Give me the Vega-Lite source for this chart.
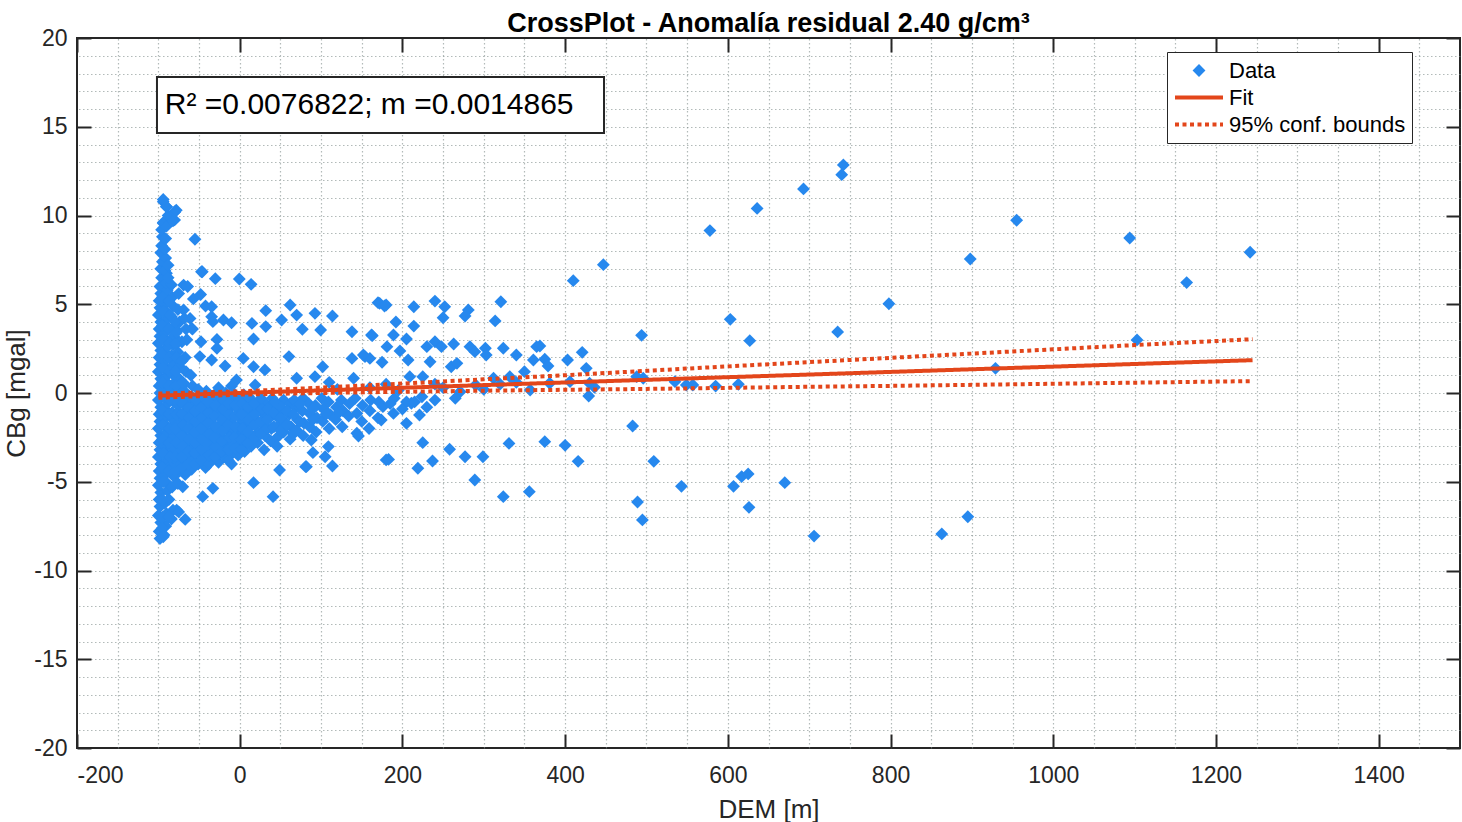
{
  "$schema": "https://vega.github.io/schema/vega-lite/v6.json",
  "width": 1383,
  "height": 710,
  "autosize": {"type": "none"},
  "padding": {"left": 77, "top": 38, "right": 2, "bottom": 74},
  "background": "white",
  "title": {"text": "CrossPlot - Anomalía residual 2.40 g/cm³", "fontSize": 27, "fontWeight": "bold", "font": "Liberation Sans", "color": "#000000", "offset": -11},
  "datasets": {
    "pts": [
      {"x":742,"y":12.85},{"x":740,"y":12.3},{"x":693,"y":11.5},{"x":636,"y":10.4},{"x":578,"y":9.15},{"x":447,"y":7.23},{"x":410,"y":6.33},{"x":898,"y":7.55},{"x":798,"y":5.03},{"x":603,"y":4.15},{"x":735,"y":3.44},{"x":494,"y":3.25},{"x":627,"y":2.95},{"x":369,"y":2.65},{"x":375,"y":1.9},{"x":379,"y":1.52},{"x":403,"y":1.86},{"x":421,"y":2.29},{"x":426,"y":1.39},{"x":381,"y":0.55},{"x":406,"y":0.64},{"x":430,"y":0.55},{"x":436,"y":0.32},{"x":429,"y":-0.17},{"x":488,"y":0.92},{"x":496,"y":0.83},{"x":535,"y":0.64},{"x":549,"y":0.45},{"x":557,"y":0.45},{"x":585,"y":0.39},{"x":613,"y":0.49},{"x":929,"y":1.39},{"x":483,"y":-1.86},{"x":375,"y":-2.74},{"x":400,"y":-2.95},{"x":416,"y":-3.85},{"x":509,"y":-3.85},{"x":543,"y":-5.26},{"x":607,"y":-5.26},{"x":617,"y":-4.71},{"x":625,"y":-4.56},{"x":670,"y":-5.05},{"x":489,"y":-6.14},{"x":495,"y":-7.15},{"x":626,"y":-6.44},{"x":706,"y":-8.06},{"x":863,"y":-7.94},{"x":895,"y":-6.97},{"x":955,"y":9.73},{"x":1094,"y":8.73},{"x":1242,"y":7.93},{"x":1164,"y":6.22},{"x":1103,"y":2.99},
      {"x":170,"y":5.09},{"x":178,"y":4.9},{"x":214,"y":4.86},{"x":240,"y":5.18},{"x":252,"y":4.86},{"x":281,"y":4.68},{"x":277,"y":4.34},{"x":321,"y":5.14},{"x":314,"y":4.06},{"x":250,"y":4.24},{"x":192,"y":4.0},{"x":214,"y":3.77},{"x":138,"y":3.45},{"x":163,"y":3.23},{"x":189,"y":3.27},{"x":205,"y":3.04},{"x":181,"y":2.61},{"x":197,"y":2.37},{"x":230,"y":2.61},{"x":240,"y":2.89},{"x":248,"y":2.61},{"x":263,"y":2.76},{"x":283,"y":2.61},{"x":302,"y":2.52},{"x":324,"y":2.52},{"x":340,"y":2.14},{"x":365,"y":2.61},{"x":361,"y":1.86},{"x":303,"y":2.14},{"x":289,"y":2.33},{"x":138,"y":1.95},{"x":154,"y":2.05},{"x":160,"y":1.95},{"x":175,"y":1.73},{"x":140,"y":0.83},{"x":207,"y":1.86},{"x":234,"y":1.76},{"x":260,"y":1.48},{"x":267,"y":1.67},{"x":225,"y":0.92},{"x":209,"y":0.92},{"x":350,"y":1.2},{"x":332,"y":0.92},{"x":312,"y":0.83},{"x":357,"y":0.17},{"x":271,"y":0.07},{"x":176,"y":-0.77},{"x":189,"y":-1.15},{"x":211,"y":-0.58},{"x":224,"y":-0.21},{"x":205,"y":-1.71},{"x":174,"y":-1.52},{"x":221,"y":-1.24},{"x":144,"y":-2.27},{"x":225,"y":-2.8},{"x":258,"y":-3.17},{"x":183,"y":-3.74},{"x":237,"y":-3.83},{"x":219,"y":-4.24},{"x":277,"y":-3.59},{"x":299,"y":-3.59},{"x":289,"y":-4.9},{"x":331,"y":-2.84},{"x":324,"y":-5.84},{"x":356,"y":-5.56},{"x":146,"y":-2.42},{"x":152,"y":2.14},{"x":162,"y":3.27},{"x":172,"y":5.05},{"x":180,"y":4.96},{"x":144,"y":-1.15},{"x":180,"y":-3.77},
      {"x":250,"y":0.3},{"x":290,"y":0.45},{"x":320,"y":0.5},{"x":340,"y":0.6},{"x":300,"y":0.2},{"x":265,"y":-0.3},{"x":240,"y":0.5},{"x":195,"y":0.15},{"x":160,"y":0.3},{"x":120,"y":0.2},{"x":110,"y":0.6},{"x":180,"y":0.5},{"x":190,"y":-0.3},{"x":205,"y":-0.5},{"x":240,"y":-0.4},
      {"x":-94,"y":10.78},{"x":-90,"y":10.5},{"x":-80,"y":10.2},{"x":-94,"y":9.56},{"x":-80,"y":9.75},{"x":-55,"y":8.66},{"x":-46,"y":6.83},{"x":-30,"y":6.44},{"x":-0.5,"y":6.42},{"x":14,"y":6.12},{"x":-86,"y":6.03},{"x":-69,"y":6.08},{"x":-48,"y":5.55},{"x":-90,"y":6.74},{"x":-47,"y":6.83},
      {"x":-34.5,"y":4.86},{"x":-34.5,"y":4.3},{"x":-20,"y":4.11},{"x":-10,"y":3.96},{"x":-33,"y":4.02},{"x":15,"y":3.92},{"x":32,"y":4.64},{"x":32,"y":3.74},{"x":17,"y":3.04},{"x":51.5,"y":4.11},{"x":62,"y":4.96},{"x":70,"y":4.39},{"x":77,"y":3.59},{"x":92.5,"y":4.49},{"x":99.5,"y":3.55},{"x":114,"y":4.34},{"x":-47.6,"y":2.89},{"x":-28,"y":3.02},{"x":-49,"y":2.05},{"x":-34.5,"y":1.86},{"x":-28,"y":2.52},{"x":-18,"y":1.52},{"x":-71,"y":2.89},{"x":-59,"y":3.64},{"x":-61,"y":4.2},{"x":-69,"y":4.68},{"x":4.4,"y":1.95},{"x":17,"y":1.48},{"x":31,"y":1.3},{"x":60.5,"y":2.05},{"x":70,"y":0.83},{"x":102,"y":1.48},{"x":92.5,"y":0.92},{"x":-73,"y":0.73},{"x":-4,"y":0.73},{"x":19,"y":0.45},
      {"x":-70,"y":-5.28},{"x":-45.5,"y":-5.84},{"x":-33,"y":-5.37},{"x":17,"y":-5.05},{"x":41,"y":-5.84},{"x":49,"y":-4.34},{"x":81,"y":-4.15},{"x":114,"y":-4.11},{"x":90,"y":-3.36},{"x":105,"y":-3.59},{"x":109,"y":-3.02},{"x":-67,"y":-7.12},{"x":-77.5,"y":-6.6},{"x":88,"y":-2.65},{"x":82,"y":-4.15},
      {"x":-98,"y":-8.2},{"x":-99,"y":-7.8},{"x":-97,"y":-7.3},{"x":-100,"y":-6.9},{"x":-98,"y":-6.4},{"x":-99,"y":-6.0},{"x":-97,"y":-5.6},{"x":-100,"y":-5.2},{"x":-98,"y":-4.8},{"x":-99,"y":-4.4},{"x":-97,"y":-4.0},{"x":-100,"y":-3.6},{"x":-98,"y":-3.2},{"x":-99,"y":-2.8},{"x":-97,"y":-2.4},{"x":-100,"y":-2.0},{"x":-98,"y":-1.6},{"x":-99,"y":-1.2},{"x":-97,"y":-0.8},{"x":-100,"y":-0.4},{"x":-98,"y":0.0},{"x":-99,"y":0.4},{"x":-97,"y":0.8},{"x":-100,"y":1.2},{"x":-98,"y":1.6},{"x":-99,"y":2.0},{"x":-97,"y":2.4},{"x":-100,"y":2.8},{"x":-98,"y":3.2},{"x":-99,"y":3.6},{"x":-97,"y":4.0},{"x":-100,"y":4.4},{"x":-98,"y":4.8},{"x":-99,"y":5.2},{"x":-97,"y":5.6},{"x":-98,"y":6.0},{"x":-96,"y":6.5},{"x":-97,"y":7.0},{"x":-95,"y":7.4},{"x":-97,"y":7.9},{"x":-96,"y":8.3},{"x":-95,"y":8.8},{"x":-96,"y":9.2},{"x":-94,"y":9.6},
      {"x":-93,"y":-8.0},{"x":-91,"y":-7.5},{"x":-90,"y":-6.8},{"x":-92,"y":-6.2},{"x":-89,"y":-5.5},{"x":-91,"y":-5.0},{"x":-92,"y":-4.6},{"x":-90,"y":-4.2},{"x":-89,"y":-3.8},{"x":-91,"y":-3.4},{"x":-92,"y":-3.0},{"x":-90,"y":-2.6},{"x":-89,"y":-2.2},{"x":-91,"y":-1.8},{"x":-92,"y":-1.4},{"x":-90,"y":-1.0},{"x":-89,"y":-0.6},{"x":-91,"y":-0.2},{"x":-92,"y":0.2},{"x":-90,"y":0.6},{"x":-89,"y":1.0},{"x":-91,"y":1.4},{"x":-92,"y":1.8},{"x":-90,"y":2.2},{"x":-89,"y":2.6},{"x":-91,"y":3.0},{"x":-92,"y":3.4},{"x":-90,"y":3.8},{"x":-89,"y":4.2},{"x":-91,"y":4.6},{"x":-92,"y":5.0},{"x":-90,"y":5.4},{"x":-89,"y":5.8},{"x":-91,"y":6.2},{"x":-92,"y":6.9},{"x":-91,"y":7.6},{"x":-92,"y":8.1},{"x":-91,"y":8.7},{"x":-90,"y":9.4},{"x":-88,"y":10.0},{"x":-90,"y":10.5},{"x":-94,"y":10.9},
      {"x":-84,"y":-7.1},{"x":-82,"y":-6.6},{"x":-83,"y":-5.3},{"x":-81,"y":-4.7},{"x":-84,"y":-4.1},{"x":-82,"y":-3.6},{"x":-83,"y":-3.1},{"x":-81,"y":-2.5},{"x":-84,"y":-2.0},{"x":-82,"y":-1.5},{"x":-83,"y":-1.1},{"x":-81,"y":-0.5},{"x":-84,"y":0.1},{"x":-82,"y":0.5},{"x":-83,"y":1.1},{"x":-81,"y":1.6},{"x":-84,"y":2.1},{"x":-82,"y":2.7},{"x":-83,"y":3.1},{"x":-81,"y":3.7},{"x":-84,"y":4.3},{"x":-82,"y":4.9},{"x":-83,"y":5.4},{"x":-84,"y":6.1},{"x":-82,"y":9.7},{"x":-80,"y":10.2},{"x":-78,"y":10.3},
      {"x":-75,"y":-6.7},{"x":-76,"y":-5.1},{"x":-74,"y":-4.4},{"x":-75,"y":-3.9},{"x":-73,"y":-3.3},{"x":-76,"y":-2.8},{"x":-74,"y":-2.3},{"x":-75,"y":-1.7},{"x":-73,"y":-1.2},{"x":-76,"y":-0.7},{"x":-74,"y":-0.3},{"x":-75,"y":0.3},{"x":-77,"y":0.9},{"x":-74,"y":1.5},{"x":-76,"y":2.3},{"x":-75,"y":2.9},{"x":-77,"y":3.5},{"x":-74,"y":4.0},{"x":-76,"y":4.7},{"x":-75,"y":5.6},
      {"x":-67,"y":-4.6},{"x":-66,"y":-4.0},{"x":-68,"y":-3.5},{"x":-65,"y":-3.0},{"x":-67,"y":-2.5},{"x":-66,"y":-2.0},{"x":-68,"y":-1.5},{"x":-65,"y":-1.0},{"x":-67,"y":-0.5},{"x":-66,"y":0.0},{"x":-68,"y":0.5},{"x":-66,"y":1.2},{"x":-67,"y":2.0},{"x":-65,"y":3.0},{"x":-66,"y":3.6},{"x":-68,"y":4.2},{"x":-64,"y":6.0},
      {"x":-59,"y":-4.3},{"x":-58,"y":-3.7},{"x":-60,"y":-3.2},{"x":-57,"y":-2.6},{"x":-59,"y":-2.1},{"x":-58,"y":-1.6},{"x":-60,"y":-1.1},{"x":-57,"y":-0.6},{"x":-59,"y":-0.2},{"x":-58,"y":0.4},{"x":-60,"y":1.0},{"x":-58,"y":3.6},{"x":-57,"y":5.3},
      {"x":-51,"y":-4.0},{"x":-50,"y":-3.4},{"x":-52,"y":-2.9},{"x":-49,"y":-2.3},{"x":-51,"y":-1.8},{"x":-50,"y":-1.3},{"x":-52,"y":-0.8},{"x":-49,"y":-0.3},{"x":-51,"y":0.2},
      {"x":-42,"y":-4.2},{"x":-43,"y":-3.6},{"x":-41,"y":-3.0},{"x":-42,"y":-2.5},{"x":-44,"y":-2.0},{"x":-41,"y":-1.5},{"x":-43,"y":-1.0},{"x":-42,"y":-0.5},{"x":-41,"y":0.1},{"x":-42,"y":4.9},
      {"x":-35,"y":-3.8},{"x":-34,"y":-3.3},{"x":-33,"y":-2.7},{"x":-35,"y":-2.2},{"x":-34,"y":-1.7},{"x":-33,"y":-1.2},{"x":-35,"y":-0.7},{"x":-34,"y":-0.2},
      {"x":-26,"y":-3.9},{"x":-25,"y":-3.4},{"x":-27,"y":-2.8},{"x":-26,"y":-2.3},{"x":-24,"y":-1.8},{"x":-26,"y":-1.3},{"x":-27,"y":-0.8},{"x":-25,"y":-0.3},{"x":-26,"y":0.3},
      {"x":-18,"y":-3.6},{"x":-17,"y":-3.1},{"x":-19,"y":-2.6},{"x":-18,"y":-2.0},{"x":-16,"y":-1.5},{"x":-18,"y":-1.0},{"x":-19,"y":-0.5},{"x":-17,"y":0.0},
      {"x":-10,"y":-4.0},{"x":-9,"y":-3.4},{"x":-11,"y":-2.8},{"x":-10,"y":-2.3},{"x":-8,"y":-1.8},{"x":-10,"y":-1.3},{"x":-11,"y":-0.8},{"x":-9,"y":-0.3},{"x":-10,"y":0.4},
      {"x":-2,"y":-3.5},{"x":-1,"y":-2.9},{"x":-3,"y":-2.4},{"x":-2,"y":-1.9},{"x":0,"y":-1.4},{"x":-2,"y":-0.9},{"x":-3,"y":-0.4},
      {"x":6,"y":-3.3},{"x":7,"y":-2.7},{"x":5,"y":-2.2},{"x":6,"y":-1.6},{"x":8,"y":-1.1},{"x":6,"y":-0.6},{"x":5,"y":-0.1},
      {"x":14,"y":-3.0},{"x":15,"y":-2.5},{"x":13,"y":-1.9},{"x":14,"y":-1.4},{"x":16,"y":-0.9},{"x":14,"y":-0.4},
      {"x":22,"y":-2.8},{"x":23,"y":-2.2},{"x":21,"y":-1.6},{"x":22,"y":-1.0},{"x":24,"y":-0.5},
      {"x":30,"y":-3.2},{"x":31,"y":-2.4},{"x":29,"y":-1.8},{"x":30,"y":-1.2},{"x":32,"y":-0.6},
      {"x":38,"y":-2.7},{"x":39,"y":-2.0},{"x":37,"y":-1.4},{"x":38,"y":-0.8},{"x":40,"y":-0.3},
      {"x":46,"y":-2.5},{"x":47,"y":-1.9},{"x":45,"y":-1.3},{"x":46,"y":-0.7},{"x":46,"y":-3.0},
      {"x":54,"y":-2.2},{"x":55,"y":-1.6},{"x":53,"y":-1.0},{"x":54,"y":-0.4},
      {"x":62,"y":-2.6},{"x":63,"y":-1.9},{"x":61,"y":-1.2},{"x":62,"y":-0.6},
      {"x":70,"y":-2.1},{"x":71,"y":-1.5},{"x":69,"y":-0.8},
      {"x":78,"y":-2.4},{"x":79,"y":-1.7},{"x":77,"y":-1.0},{"x":78,"y":-0.3},
      {"x":86,"y":-1.9},{"x":87,"y":-1.2},{"x":85,"y":-0.6},
      {"x":94,"y":-2.2},{"x":95,"y":-1.4},{"x":93,"y":-0.7},
      {"x":102,"y":-1.6},{"x":103,"y":-0.9},{"x":101,"y":-0.3},
      {"x":110,"y":-2.0},{"x":111,"y":-1.2},{"x":109,"y":-0.5},
      {"x":118,"y":-1.5},{"x":119,"y":-0.8},
      {"x":126,"y":-1.9},{"x":127,"y":-1.0},{"x":125,"y":-0.4},
      {"x":134,"y":-1.3},{"x":135,"y":-0.6},{"x":142,"y":-0.3},
      {"x":150,"y":-1.6},{"x":151,"y":-0.7},
      {"x":160,"y":-1.0},{"x":161,"y":-0.4},{"x":159,"y":-2.0},
      {"x":170,"y":-1.4},{"x":171,"y":-0.5},
      {"x":185,"y":-0.6},{"x":200,"y":-0.9},{"x":215,"y":-0.5},{"x":230,"y":-0.8},
      {"x":-95,"y":-7.0},{"x":-95,"y":-6.0},{"x":-94,"y":-5.0},{"x":-95,"y":-4.2},{"x":-94,"y":-3.4},{"x":-95,"y":-2.6},{"x":-94,"y":-1.8},{"x":-95,"y":-1.0},{"x":-94,"y":-0.2},{"x":-95,"y":0.6},{"x":-94,"y":1.4},{"x":-95,"y":2.2},{"x":-94,"y":3.0},{"x":-95,"y":3.8},{"x":-94,"y":4.6},{"x":-95,"y":5.4},
      {"x":-87,"y":-6.0},{"x":-87,"y":-4.4},{"x":-86,"y":-3.6},{"x":-87,"y":-2.8},{"x":-86,"y":-2.0},{"x":-87,"y":-1.2},{"x":-86,"y":-0.4},{"x":-87,"y":0.4},{"x":-86,"y":1.2},{"x":-87,"y":2.0},{"x":-86,"y":2.8},{"x":-87,"y":3.6},{"x":-86,"y":4.4},{"x":-87,"y":5.2},{"x":-88,"y":6.5},{"x":-88,"y":7.2},
      {"x":-79,"y":-4.4},{"x":-79,"y":-3.6},{"x":-78,"y":-2.8},{"x":-79,"y":-2.0},{"x":-78,"y":-1.2},{"x":-79,"y":-0.4},{"x":-78,"y":0.4},{"x":-79,"y":1.2},{"x":-78,"y":2.0},{"x":-79,"y":2.8},{"x":-78,"y":3.4},{"x":-79,"y":4.0},
      {"x":-71,"y":-4.2},{"x":-71,"y":-3.6},{"x":-70,"y":-3.0},{"x":-71,"y":-2.4},{"x":-70,"y":-1.8},{"x":-71,"y":-1.2},{"x":-70,"y":-0.6},{"x":-71,"y":0.0},{"x":-70,"y":0.6},{"x":-71,"y":1.8},
      {"x":-63,"y":-4.0},{"x":-63,"y":-3.3},{"x":-62,"y":-2.6},{"x":-63,"y":-2.0},{"x":-62,"y":-1.4},{"x":-63,"y":-0.8},{"x":-62,"y":-0.2},
      {"x":-55,"y":-4.0},{"x":-55,"y":-3.4},{"x":-54,"y":-2.8},{"x":-55,"y":-2.2},{"x":-54,"y":-1.6},{"x":-55,"y":-1.0},{"x":-54,"y":-0.4},
      {"x":-47,"y":-3.8},{"x":-47,"y":-3.2},{"x":-46,"y":-2.6},{"x":-47,"y":-2.0},{"x":-46,"y":-1.4},{"x":-47,"y":-0.8},{"x":-46,"y":-0.2},
      {"x":-38,"y":-4.0},{"x":-38,"y":-3.5},{"x":-39,"y":-2.9},{"x":-38,"y":-2.3},{"x":-39,"y":-1.7},{"x":-38,"y":-1.1},{"x":-39,"y":-0.5},
      {"x":-30,"y":-3.6},{"x":-30,"y":-3.0},{"x":-31,"y":-2.5},{"x":-30,"y":-1.9},{"x":-31,"y":-1.3},{"x":-30,"y":-0.7},{"x":-31,"y":-0.1},
      {"x":-22,"y":-3.3},{"x":-22,"y":-2.7},{"x":-21,"y":-2.1},{"x":-22,"y":-1.5},{"x":-21,"y":-0.9},{"x":-22,"y":-0.3},
      {"x":-14,"y":-3.8},{"x":-14,"y":-3.2},{"x":-13,"y":-2.5},{"x":-14,"y":-1.8},{"x":-13,"y":-1.2},{"x":-14,"y":-0.6},
      {"x":-6,"y":-3.1},{"x":-6,"y":-2.5},{"x":-5,"y":-1.9},{"x":-6,"y":-1.3},{"x":-5,"y":-0.7},{"x":-6,"y":-0.1},
      {"x":2,"y":-3.2},{"x":2,"y":-2.6},{"x":3,"y":-2.0},{"x":2,"y":-1.2},{"x":3,"y":-0.6},
      {"x":10,"y":-2.8},{"x":10,"y":-2.2},{"x":11,"y":-1.5},{"x":10,"y":-0.8},{"x":11,"y":-0.2},
      {"x":18,"y":-2.5},{"x":18,"y":-1.8},{"x":19,"y":-1.2},{"x":18,"y":-0.6},
      {"x":26,"y":-2.3},{"x":26,"y":-1.6},{"x":27,"y":-0.9},{"x":26,"y":-0.3},
      {"x":34,"y":-2.0},{"x":34,"y":-1.5},{"x":35,"y":-0.9},
      {"x":42,"y":-1.9},{"x":42,"y":-1.1},{"x":43,"y":-0.5},
      {"x":50,"y":-2.1},{"x":50,"y":-1.4},{"x":51,"y":-0.8},
      {"x":58,"y":-1.8},{"x":58,"y":-1.0},
      {"x":66,"y":-2.3},{"x":66,"y":-1.2},{"x":67,"y":-0.4},
      {"x":74,"y":-1.6},{"x":74,"y":-0.6},
      {"x":90,"y":-1.5},{"x":90,"y":-0.9},{"x":106,"y":-1.2},{"x":122,"y":-1.1},
      {"x":-95,"y":-7.6},{"x":-87,"y":-7.0},{"x":-94,"y":-8.1}
    ],
    "fit": [{"x":-100,"y":-0.15},{"x":1245,"y":1.85}],
    "bnd": [
      {"x":-100,"y":-0.27,"s":"lo"},{"x":0,"y":-0.09,"s":"lo"},{"x":100,"y":0.0,"s":"lo"},{"x":200,"y":0.07,"s":"lo"},{"x":300,"y":0.13,"s":"lo"},{"x":400,"y":0.18,"s":"lo"},{"x":500,"y":0.23,"s":"lo"},{"x":600,"y":0.29,"s":"lo"},{"x":700,"y":0.35,"s":"lo"},{"x":800,"y":0.40,"s":"lo"},{"x":900,"y":0.46,"s":"lo"},{"x":1000,"y":0.52,"s":"lo"},{"x":1100,"y":0.58,"s":"lo"},{"x":1245,"y":0.67,"s":"lo"},
      {"x":-100,"y":-0.03,"s":"hi"},{"x":0,"y":0.09,"s":"hi"},{"x":100,"y":0.30,"s":"hi"},{"x":200,"y":0.53,"s":"hi"},{"x":300,"y":0.77,"s":"hi"},{"x":400,"y":1.00,"s":"hi"},{"x":500,"y":1.25,"s":"hi"},{"x":600,"y":1.50,"s":"hi"},{"x":700,"y":1.74,"s":"hi"},{"x":800,"y":1.98,"s":"hi"},{"x":900,"y":2.22,"s":"hi"},{"x":1000,"y":2.46,"s":"hi"},{"x":1100,"y":2.70,"s":"hi"},{"x":1245,"y":3.03,"s":"hi"}
    ],
    "ann": [{"x":-101.7,"x2":447.8,"y":17.8,"y2":14.65,"tx":-92,"ty":16.2,"label":"R² =0.0076822; m =0.0014865"}]
  },
  "resolve": {"axis": {"x": "independent", "y": "independent"}},
  "layer": [
    {
      "data": {"name": "pts"},
      "mark": {"type": "point", "shape": "diamond", "filled": true, "size": 165, "opacity": 1, "strokeWidth": 0},
      "encoding": {
        "x": {"field": "x", "type": "quantitative", "scale": {"domain": [-200, 1500], "nice": false, "zero": false},
              "axis": {"orient": "bottom", "values": [-200,0,200,400,600,800,1000,1200,1400], "labelExpr": "'' + datum.value", "grid": false, "ticks": false, "domain": false, "labelPadding": 16, "title": "DEM [m]", "titlePadding": 9}},
        "y": {"field": "y", "type": "quantitative", "scale": {"domain": [-20, 20], "nice": false, "zero": false},
              "axis": {"orient": "left", "values": [-20,-15,-10,-5,0,5,10,15,20], "labelExpr": "'' + datum.value", "grid": false, "ticks": false, "domain": false, "labelPadding": 10, "title": "CBg [mgal]", "titlePadding": 4}},
        "fill": {"datum": "Data", "type": "nominal",
                 "scale": {"domain": ["Data", "Fit", "95% conf. bounds"], "range": ["#2688ee", "#e3461b", "#e3461b"]},
                 "legend": {"orient": "none", "legendX": 1090, "legendY": 14, "title": null, "fillColor": "white", "strokeColor": "#262626", "padding": 6,
                            "labelFontSize": 22, "labelFont": "Liberation Sans", "labelColor": "#000000", "labelOffset": 4, "labelLimit": 400,
                            "clipHeight": 25, "rowPadding": 2, "symbolStrokeWidth": 4}},
        "shape": {"datum": "Data", "type": "nominal",
                  "scale": {"domain": ["Data", "Fit", "95% conf. bounds"], "range": ["diamond", "stroke", "stroke"]},
                  "legend": {"title": null}},
        "size": {"datum": "Data", "type": "nominal",
                 "scale": {"type": "ordinal", "domain": ["Data", "Fit", "95% conf. bounds"], "range": [165, 2304, 2304]},
                 "legend": {"title": null}}
      }
    },
    {
      "data": {"name": "bnd"},
      "mark": {"type": "line", "strokeWidth": 4},
      "encoding": {
        "x": {"field": "x", "type": "quantitative", "scale": {"domain": [-200, 1500], "nice": false, "zero": false},
              "axis": {"orient": "top", "values": [-150,-100,-50,0,50,100,150,200,250,300,350,400,450,500,550,600,650,700,750,800,850,900,950,1000,1050,1100,1150,1200,1250,1300,1350,1400,1450],
                       "grid": true, "gridDash": [1.5, 2.5], "gridColor": "#7f8c8a", "gridWidth": 1.2, "gridOpacity": 0.6, "ticks": false, "labels": false, "domain": false, "title": null}},
        "y": {"field": "y", "type": "quantitative", "scale": {"domain": [-20, 20], "nice": false, "zero": false},
              "axis": {"orient": "right", "values": [-19,-18,-17,-16,-15,-14,-13,-12,-11,-10,-9,-8,-7,-6,-5,-4,-3,-2,-1,0,1,2,3,4,5,6,7,8,9,10,11,12,13,14,15,16,17,18,19],
                       "grid": true, "gridDash": [1.5, 2.5], "gridColor": "#7f8c8a", "gridWidth": 1.2, "gridOpacity": 0.6, "ticks": false, "labels": false, "domain": false, "title": null}},
        "detail": {"field": "s"},
        "stroke": {"datum": "95% conf. bounds", "type": "nominal",
                   "scale": {"domain": ["Data", "Fit", "95% conf. bounds"], "range": ["transparent", "#e3461b", "#e3461b"]},
                   "legend": {"title": null}},
        "strokeDash": {"datum": "95% conf. bounds", "type": "nominal",
                       "scale": {"domain": ["Data", "Fit", "95% conf. bounds"], "range": [[1, 0], [1, 0], [4, 3.5]]},
                       "legend": {"title": null}}
      }
    },
    {
      "data": {"name": "fit"},
      "mark": {"type": "line", "strokeWidth": 4},
      "encoding": {
        "x": {"field": "x", "type": "quantitative", "scale": {"domain": [-200, 1500], "nice": false, "zero": false},
              "axis": {"orient": "top", "values": [-200,0,200,400,600,800,1000,1200,1400], "grid": false, "ticks": true, "tickSize": -14, "tickWidth": 2, "tickColor": "#262626", "labels": false, "domain": false, "title": null}},
        "y": {"field": "y", "type": "quantitative", "scale": {"domain": [-20, 20], "nice": false, "zero": false},
              "axis": {"orient": "right", "values": [-20,-15,-10,-5,0,5,10,15,20], "grid": false, "ticks": true, "tickSize": -14, "tickWidth": 2, "tickColor": "#262626", "labels": false, "domain": false, "title": null}},
        "stroke": {"datum": "Fit", "type": "nominal"},
        "strokeDash": {"datum": "Fit", "type": "nominal"}
      }
    },
    {
      "data": {"name": "ann"},
      "mark": {"type": "rect", "fill": "white", "stroke": "#262626", "strokeWidth": 2},
      "encoding": {
        "x": {"field": "x", "type": "quantitative", "scale": {"domain": [-200, 1500], "nice": false, "zero": false},
              "axis": {"orient": "bottom", "values": [-200,0,200,400,600,800,1000,1200,1400], "grid": false, "ticks": true, "tickSize": -14, "tickWidth": 2, "tickColor": "#262626", "labels": false, "domain": false, "title": null}},
        "x2": {"field": "x2"},
        "y": {"field": "y", "type": "quantitative", "scale": {"domain": [-20, 20], "nice": false, "zero": false},
              "axis": {"orient": "left", "values": [-20,-15,-10,-5,0,5,10,15,20], "grid": false, "ticks": true, "tickSize": -14, "tickWidth": 2, "tickColor": "#262626", "labels": false, "domain": false, "title": null}},
        "y2": {"field": "y2"}
      }
    },
    {
      "data": {"name": "ann"},
      "mark": {"type": "text", "align": "left", "baseline": "middle", "fontSize": 30, "font": "Liberation Sans", "color": "#000000"},
      "encoding": {
        "x": {"field": "tx", "type": "quantitative", "scale": {"domain": [-200, 1500], "nice": false, "zero": false}, "axis": null},
        "y": {"field": "ty", "type": "quantitative", "scale": {"domain": [-20, 20], "nice": false, "zero": false}, "axis": null},
        "text": {"field": "label"}
      }
    }
  ],
  "config": {
    "font": "Liberation Sans",
    "view": {"stroke": "#262626", "strokeWidth": 2},
    "axis": {"labelFont": "Liberation Sans", "labelFontSize": 23, "labelColor": "#262626", "titleFont": "Liberation Sans", "titleFontSize": 26, "titleFontWeight": "normal", "titleColor": "#262626"}
  }
}
